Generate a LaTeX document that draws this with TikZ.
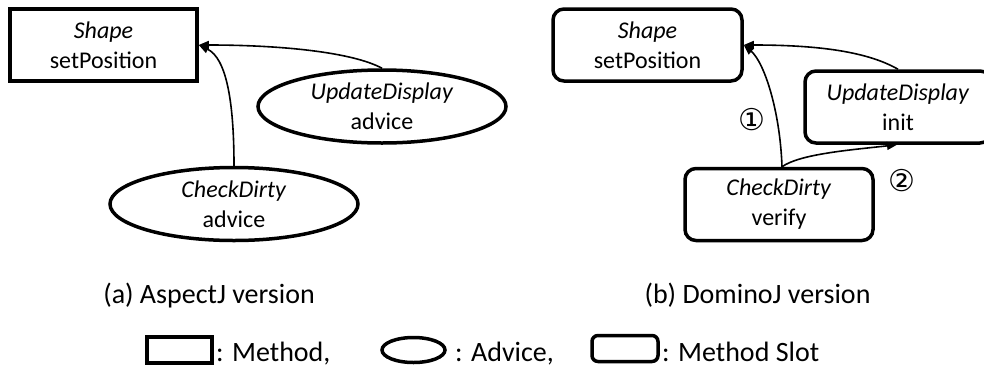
\documentclass[tikz,border=0pt]{standalone}
\usepackage{fontspec}
\setmainfont{Carlito}
\newfontfamily\circfont{DejaVu Sans}
\usetikzlibrary{shapes.geometric,arrows.meta}
\begin{document}
\begin{tikzpicture}[x=1pt,y=-1pt,
  every node/.style={font=\fontsize{24}{30}\selectfont, inner sep=0pt, align=center},
  method/.style={draw, line width=3.5pt, minimum width=187pt, minimum height=72pt},
  slot/.style={draw, line width=3.5pt, rounded corners=11pt},
  advice/.style={draw, ellipse, line width=3.5pt},
  link/.style={line width=1.6pt, -{Triangle[length=10pt,width=8pt]}},
  caption/.style={font=\fontsize{28}{32}\selectfont, anchor=base},
  num/.style={font=\circfont\fontsize{30}{32}\selectfont}]
\useasboundingbox (0,0) rectangle (984,367);
\clip (0,0) rectangle (984,367);

% (a) AspectJ version
\node[method] (shA) at (103.5,45) {\textit{Shape}\\setPosition};
\node[advice, minimum width=248pt, minimum height=73pt] (udA) at (382,106.5) {\textit{UpdateDisplay}\\advice};
\node[advice, minimum width=248pt, minimum height=73pt] (cdA) at (234,204) {\textit{CheckDirty}\\advice};
\draw[link] (udA.north) .. controls (352,52) and (280,45) .. (shA.east);
\draw[link] (cdA.north) .. controls (234,100) and (226,58) .. (shA.east);
\node[caption] (capA) at (209,303) {(a) AspectJ version};

% (b) DominoJ version
\node[slot, minimum width=189pt, minimum height=72pt] (shB) at (647.5,45) {\textit{Shape}\\setPosition};
\node[slot, minimum width=186pt, minimum height=72pt] (udB) at (898,107) {\textit{UpdateDisplay}\\init};
\node[slot, minimum width=188pt, minimum height=72pt] (cdB) at (779,204.5) {\textit{CheckDirty}\\verify};
\coordinate (cdTop) at ([xshift=3pt]cdB.north);
\draw[link] (udB.north) .. controls (868,52) and (820,45) .. (shB.east);
\draw[link] (cdTop) .. controls (780,110) and (764,62) .. (shB.east);
\draw[link] (cdTop) .. controls (800,154) and (850,150) .. ([xshift=-1pt]udB.south);
\node[num] (n1) at (752,120) {①};
\node[num] (n2) at (902,181) {②};
\node[caption] (capB) at (757.5,303) {(b) DominoJ version};

% legend
\node[draw, line width=3.5pt, minimum width=65pt, minimum height=26pt] (lgM) at (179.5,350) {};
\node[caption, anchor=base west] (lgMt) at (216,361) {: Method,};
\node[advice, minimum width=63pt, minimum height=25pt] (lgA) at (413.5,350) {};
\node[caption, anchor=base west] (lgAt) at (455,361) {: Advice,};
\node[slot, rounded corners=6pt, minimum width=66pt, minimum height=26pt] (lgS) at (625,348.5) {};
\node[caption, anchor=base west] (lgSt) at (662,361) {: Method Slot};
\end{tikzpicture}
\end{document}
